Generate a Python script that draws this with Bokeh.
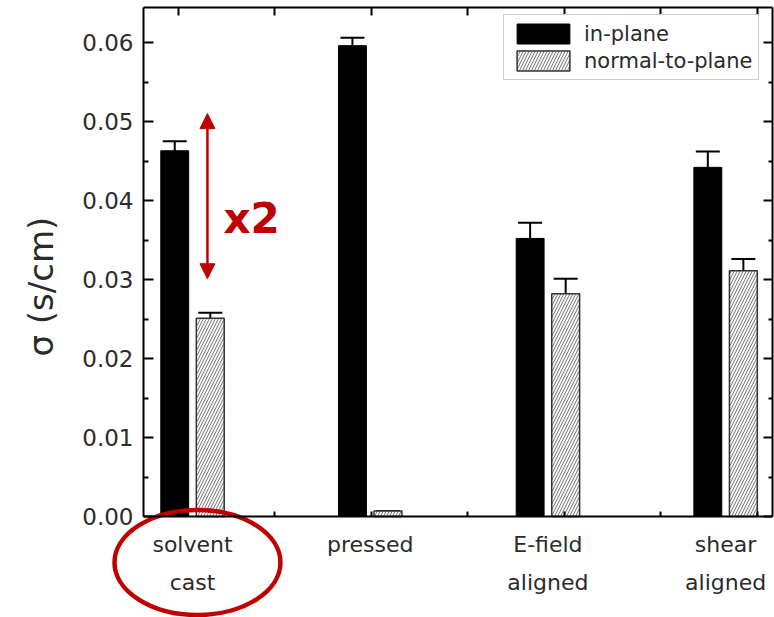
import math
import numpy as np
from bokeh.plotting import figure
from bokeh.models import (Range1d, LinearAxis, FixedTicker, Legend, LegendItem,
                          Whisker, TeeHead, ColumnDataSource, Arrow, NormalHead, Label,
                          PrintfTickFormatter)
from bokeh.embed import file_html
from bokeh.resources import INLINE

# ---- data ----
categories = ["solvent\ncast", "pressed", "E-field\naligned", "shear\naligned"]
series_names = ["in-plane", "normal-to-plane"]
in_plane = [0.0463, 0.0596, 0.0352, 0.0442]
in_plane_err = [0.0012, 0.0010, 0.0020, 0.0020]
normal = [0.0251, 0.0007, 0.0282, 0.0311]
normal_err = [0.0007, 0.0, 0.0019, 0.0015]
y_ticks = [0.00, 0.01, 0.02, 0.03, 0.04, 0.05, 0.06]
y_label = "σ (s/cm)"

RED = "#c00000"
FONT = "DejaVu Sans"
TXT = "#2b2b2b"

# ---- layout constants (data units) ----
W, H = 774, 617
X_START, X_END = -1.0805, 3.2752        # whole canvas is the plot frame
Y_START, Y_END = -0.012785, 0.06532
AX_LEFT, AX_RIGHT = -0.2757, 3.264       # drawn axes box
AX_BOTTOM, AX_TOP = 0.0, 0.06443
BAR_W = 0.157
DODGE = 0.1
X_MINOR = [-0.079 + 0.543 * k for k in range(7)]
Y_MINOR = [0.005 + 0.01 * k for k in range(6)]

p = figure(width=W, height=H, output_backend="svg", toolbar_location=None,
           x_range=Range1d(X_START, X_END), y_range=Range1d(Y_START, Y_END),
           min_border=0)
p.grid.visible = False
p.outline_line_color = None
p.background_fill_color = "white"
p.border_fill_color = "white"

idx = np.arange(len(categories))
src_in = ColumnDataSource(dict(x=idx - DODGE, top=in_plane,
                               lo=np.array(in_plane) - np.array(in_plane_err),
                               hi=np.array(in_plane) + np.array(in_plane_err)))
src_nm = ColumnDataSource(dict(x=idx + DODGE, top=normal,
                               lo=np.array(normal) - np.array(normal_err),
                               hi=np.array(normal) + np.array(normal_err)))

r_in = p.vbar(x="x", top="top", bottom=0, width=BAR_W, source=src_in,
              fill_color="black", line_color="black", line_width=1)
r_nm = p.vbar(x="x", top="top", bottom=0, width=BAR_W, source=src_nm,
              fill_color="#f4f4f4", line_color="#333333", line_width=1.5,
              hatch_pattern="/", hatch_color="#808080", hatch_scale=6, hatch_weight=1)

for src in (src_in, src_nm):
    w = Whisker(source=src, base="x", upper="hi", lower="lo", line_color="black", line_width=2,
                upper_head=TeeHead(size=24, line_width=2, line_color="black"),
                lower_head=TeeHead(size=24, line_width=1.5, line_color="#333333"))
    p.add_layout(w)

# ---- axes (fixed inside the full-canvas frame) ----
yt = FixedTicker(ticks=y_ticks, minor_ticks=Y_MINOR)
ax = p.yaxis[0]
ax.ticker = yt
ax.fixed_location = AX_LEFT
ax.bounds = (AX_BOTTOM, AX_TOP)
ax.formatter = PrintfTickFormatter(format="%.2f")
ax.major_tick_in = 10
ax.major_tick_out = 0
ax.minor_tick_in = 5
ax.minor_tick_out = 0
ax.axis_line_width = 2
ax.major_tick_line_width = 2
ax.minor_tick_line_width = 2
ax.major_label_text_font = FONT
ax.major_label_text_font_size = "23px"
ax.major_label_text_color = TXT
ax.major_label_standoff = 10

bx = p.xaxis[0]
bx.ticker = FixedTicker(ticks=list(idx), minor_ticks=X_MINOR)
bx.fixed_location = AX_BOTTOM
bx.bounds = (AX_LEFT, AX_RIGHT)
bx.major_label_overrides = {int(i): c for i, c in zip(idx, categories)}
bx.major_tick_in = 0
bx.major_tick_out = 0
bx.minor_tick_in = 5
bx.minor_tick_out = 0
bx.axis_line_width = 2
bx.minor_tick_line_width = 2
bx.major_label_text_font = FONT
bx.major_label_text_font_size = "22px"
bx.major_label_text_color = TXT
bx.major_label_text_line_height = 1.55
bx.major_label_standoff = 15

rax = LinearAxis(ticker=yt, fixed_location=AX_RIGHT, bounds=(AX_BOTTOM, AX_TOP),
                 major_label_text_color=None, major_label_standoff=0,
                 major_tick_in=9, major_tick_out=0, minor_tick_in=4, minor_tick_out=0,
                 axis_line_width=2, major_tick_line_width=2, minor_tick_line_width=2)
p.add_layout(rax, "right")
tax = LinearAxis(ticker=FixedTicker(ticks=X_MINOR), fixed_location=AX_TOP,
                 bounds=(AX_LEFT, AX_RIGHT), major_label_text_color=None,
                 major_label_standoff=0, major_tick_in=8, major_tick_out=0, minor_tick_in=0,
                 minor_tick_out=0, axis_line_width=2, major_tick_line_width=2)
p.add_layout(tax, "above")

# ---- legend ----
legend = Legend(items=[LegendItem(label=series_names[0], renderers=[r_in]),
                       LegendItem(label=series_names[1], renderers=[r_nm])],
                location=(503, 537), glyph_width=66, glyph_height=25, label_height=21,
                spacing=2, padding=6, label_standoff=8, margin=0,
                label_text_font=FONT, label_text_font_size="21px", label_text_color=TXT,
                border_line_color="#999999", border_line_width=1, background_fill_alpha=1)
p.add_layout(legend)

# ---- annotations ----
p.add_layout(Label(x=-0.855, y=0.0291, text=y_label, angle=math.pi / 2,
                   text_align="center", text_baseline="middle", text_font=FONT,
                   text_font_size="34px", text_color=TXT))

ARROW_X, ARROW_Y0, ARROW_Y1 = 0.084, 0.0510, 0.0301
p.add_layout(Arrow(x_start=ARROW_X, y_start=ARROW_Y1, x_end=ARROW_X, y_end=ARROW_Y0,
                   line_color=RED, line_width=2.5,
                   start=NormalHead(size=15, fill_color=RED, line_color=RED),
                   end=NormalHead(size=15, fill_color=RED, line_color=RED)))
p.add_layout(Label(x=0.174, y=0.0377, text="x2", text_align="left", text_baseline="middle",
                   text_font=FONT, text_font_style="bold", text_font_size="42px",
                   text_color=RED))

EC_X, EC_Y, EW, EH = 0.028, -0.00582, 0.934, 0.0133
p.ellipse(x=[EC_X], y=[EC_Y], width=[EW], height=[EH], fill_color=None,
          line_color=RED, line_width=4.5)

open("out.html", "w").write(file_html(p, INLINE))
